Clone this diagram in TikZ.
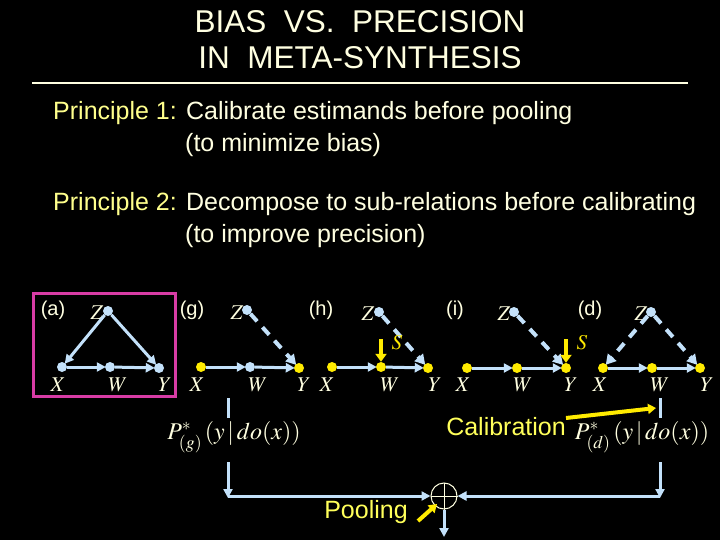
\documentclass[tikz,border=0pt]{standalone}
\usepackage{mathptmx}
\usepackage[no-math]{fontspec}
\setmainfont{Liberation Serif}
\newfontfamily\nsans{Liberation Sans}
\usetikzlibrary{arrows.meta}
\definecolor{cream}{RGB}{255,255,225}
\definecolor{ptxt}{RGB}{255,255,140}
\definecolor{ylw}{RGB}{255,255,90}
\definecolor{dotyl}{RGB}{255,235,0}
\definecolor{lblue}{RGB}{195,225,250}
\definecolor{mag}{RGB}{215,60,165}
\tikzset{
  titletext/.style={text=cream,font=\nsans\fontsize{31.5}{36}\selectfont,inner sep=0},
  ptext/.style={text=cream,font=\nsans\fontsize{25}{30}\selectfont,anchor=west,inner sep=0},
  dlabel/.style={text=cream,font=\nsans\fontsize{20}{24}\selectfont,inner sep=0},
  vlabel/.style={text=cream,font=\fontsize{21}{24}\selectfont,inner sep=0},
  slabel/.style={text=dotyl,font=\fontsize{21}{24}\selectfont,inner sep=0},
  bdot/.style={circle,fill=lblue,minimum size=10pt,inner sep=0},
  ydot/.style={circle,fill=dotyl,minimum size=10pt,inner sep=0},
  edge/.style={draw=lblue,line width=3pt,-{Triangle[length=9pt,width=9pt]},shorten >=-1pt},
  dedge/.style={draw=lblue,line width=4pt,dash pattern=on 10pt off 8pt,-{Triangle[length=10pt,width=11pt]},shorten >=-1pt},
  sarrow/.style={draw=dotyl,line width=4pt,-{Triangle[length=8pt,width=11pt]}},
  flow/.style={draw=lblue,line width=3pt},
  flowarr/.style={draw=lblue,line width=3pt,-{Triangle[length=9pt,width=9pt]}},
  yarr/.style={draw=dotyl,line width=4pt,-{Triangle[length=8pt,width=10pt]}},
  ytext/.style={text=ylw,font=\nsans\fontsize{25}{30}\selectfont,inner sep=0},
  mtext/.style={text=cream,font=\fontsize{24}{28}\selectfont,inner sep=0}
}
\begin{document}
\begin{tikzpicture}[x=1pt,y=-1pt]
\fill[black] (0,0) rectangle (720,540);
\useasboundingbox (0,0) rectangle (720,540);

% title
\node[titletext] (t1) at (360,22) {BIAS\ \ VS.\ \ PRECISION};
\node[titletext] (t2) at (360,58) {IN\ \ META-SYNTHESIS};
\coordinate (r1) at (32,83);
\coordinate (r2) at (688,83);
\draw[cream,line width=1.5pt] (r1) -- (r2);

% principles
\node[ptext] (p1) at (53,113) {\textcolor{ptxt}{Principle 1:} Calibrate estimands before pooling};
\node[ptext] (p1b) at (185,145) {(to minimize bias)};
\node[ptext] (p2) at (53,204) {\textcolor{ptxt}{Principle 2:} Decompose to sub-relations before calibrating};
\node[ptext] (p2b) at (185,236) {(to improve precision)};

% magenta box
\coordinate (m1) at (33,293);
\coordinate (m2) at (175,396);
\draw[mag,line width=3pt] (m1) rectangle (m2);

% panel labels
\node[dlabel] (la) at (53,310) {(a)};
\node[dlabel] (lg) at (192,310) {(g)};
\node[dlabel] (lh) at (321,310) {(h)};
\node[dlabel] (li) at (455,310) {(i)};
\node[dlabel] (ld) at (590,310) {(d)};

% ---- (a)
\node[bdot] (aZ) at (108,311) {};
\node[bdot] (aX) at (62,367) {};
\node[bdot] (aW) at (110,367) {};
\node[bdot] (aY) at (159,368) {};
\node[vlabel] (aZl) at (97,313) {$Z$};
\node[vlabel] (aXl) at (58,385) {$X$};
\node[vlabel] (aWl) at (118,385) {$W$};
\node[vlabel] (aYl) at (165,385) {$Y$};
\draw[edge] (aZ) -- (aX);
\draw[edge] (aZ) -- (aY);
\draw[edge] (aX) -- (aW);
\draw[edge] (aW) -- (aY);

% ---- (g)
\node[bdot] (gZ) at (247,310) {};
\node[ydot] (gX) at (201,367) {};
\node[bdot] (gW) at (250,367) {};
\node[ydot] (gY) at (299,368) {};
\node[vlabel] (gZl) at (237,313) {$Z$};
\node[vlabel] (gXl) at (197,385) {$X$};
\node[vlabel] (gWl) at (258,385) {$W$};
\node[vlabel] (gYl) at (304,385) {$Y$};
\draw[edge] (gX) -- (gW);
\draw[edge] (gW) -- (gY);
\draw[dedge] (gZ) -- (gY);

% ---- (h)
\node[bdot] (hZ) at (379,312) {};
\node[ydot] (hX) at (332,367) {};
\node[ydot] (hW) at (381,367) {};
\node[ydot] (hY) at (428,368) {};
\node[vlabel] (hZl) at (368,314) {$Z$};
\node[vlabel] (hXl) at (327,385) {$X$};
\node[vlabel] (hWl) at (390,385) {$W$};
\node[vlabel] (hYl) at (435,385) {$Y$};
\draw[edge] (hX) -- (hW);
\draw[edge] (hW) -- (hY);
\draw[dedge] (hZ) -- (hY);
\coordinate (hS) at (381,339);
\node[slabel] (hSl) at (397,343) {$S$};
\draw[sarrow] (hS) -- (hW);

% ---- (i)
\node[bdot] (iZ) at (514,312) {};
\node[ydot] (iX) at (467,368) {};
\node[ydot] (iW) at (517,368) {};
\node[ydot] (iY) at (566,368) {};
\node[vlabel] (iZl) at (504,314) {$Z$};
\node[vlabel] (iXl) at (463,385) {$X$};
\node[vlabel] (iWl) at (523,385) {$W$};
\node[vlabel] (iYl) at (571,385) {$Y$};
\draw[edge] (iX) -- (iW);
\draw[edge] (iW) -- (iY);
\draw[dedge] (iZ) -- (iY);
\coordinate (iS) at (566,339);
\node[slabel] (iSl) at (582,343) {$S$};
\draw[sarrow] (iS) -- (iY);

% ---- (d)
\node[bdot] (dZ) at (651,312) {};
\node[ydot] (dX) at (603,368) {};
\node[ydot] (dW) at (652,368) {};
\node[ydot] (dY) at (700,368) {};
\node[vlabel] (dZl) at (641,314) {$Z$};
\node[vlabel] (dXl) at (600,385) {$X$};
\node[vlabel] (dWl) at (660,385) {$W$};
\node[vlabel] (dYl) at (707,385) {$Y$};
\draw[edge] (dX) -- (dW);
\draw[edge] (dW) -- (dY);
\draw[dedge] (dZ) -- (dX);
\draw[dedge] (dZ) -- (dY);

% ---- bottom pooling
\node[mtext] (Pg) at (234,437) {$P^{*}_{(g)}\,(y\,|\,do(x))$};
\node[mtext] (Pd) at (642,437) {$P^{*}_{(d)}\,(y\,|\,do(x))$};
\coordinate (g1) at (228,398);
\coordinate (g2) at (228,418);
\coordinate (g3) at (228,462);
\coordinate (g4) at (228,498);
\coordinate (d1) at (660,398);
\coordinate (d2) at (660,418);
\coordinate (d3) at (660,462);
\coordinate (d4) at (660,498);
\node[circle,draw=cream,line width=1pt,minimum size=26pt,inner sep=0] (pool) at (444,496) {};
\draw[cream,line width=1pt] (pool.north) -- (pool.south) (pool.west) -- (pool.east);
\draw[flow] (g1) -- (g2);
\draw[flow] (d1) -- (d2);
\draw[flowarr] (g3) -- (g4);
\draw[flowarr] (d3) -- (d4);
\draw[flowarr] (g4 |- pool.west) -- (pool.west);
\draw[flowarr] (d4 |- pool.east) -- (pool.east);
\coordinate (out) at (444,537);
\draw[flowarr] (pool.south) -- (out);

\node[ytext] (pooling) at (366,512) {Pooling};
\coordinate (pa1) at (418,521);
\coordinate (pa2) at (437,504);
\draw[yarr] (pa1) -- (pa2);

\node[ytext] (calib) at (506,427) {Calibration};
\coordinate (ca1) at (566,418);
\coordinate (ca2) at (656,408);
\draw[yarr] (ca1) -- (ca2);
\end{tikzpicture}
\end{document}
